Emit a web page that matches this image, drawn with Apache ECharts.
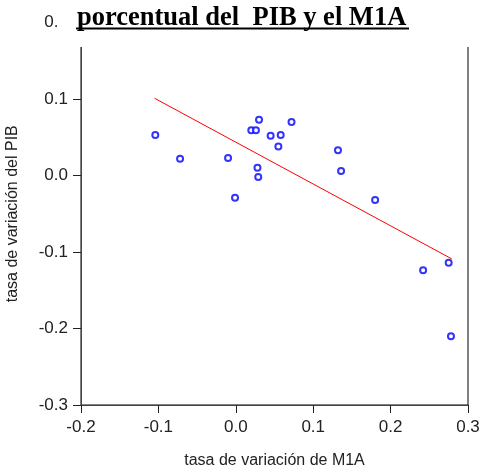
<!DOCTYPE html>
<html>
<head>
<meta charset="utf-8">
<script src="https://cdn.jsdelivr.net/npm/echarts@6/dist/echarts.min.js"></script>
<style>
  html, body { margin: 0; padding: 0; background: #fff; }
  #chart { width: 483px; height: 468px; }
</style>
</head>
<body>
<div id="chart"></div>
<script>
// tasa de variación de M1A (x) y del PIB (y)
const m1aRate = [-0.104, -0.072, -0.010, -0.001, 0.020, 0.026, 0.030, 0.072, 0.045, 0.058,
                 0.055, 0.028, 0.029, 0.132, 0.136, 0.180, 0.275, 0.242, 0.278];
const pibRate = [0.053, 0.022, 0.023, -0.029, 0.059, 0.059, 0.073, 0.070, 0.052, 0.053,
                 0.038, 0.010, -0.002, 0.033, 0.006, -0.032, -0.114, -0.124, -0.210];
// extremos de la recta de ajuste
const fitX = [-0.105, 0.279];
const fitY = [0.101, -0.109];

const xTicks = [-0.2, 0.3];
const yTicks = [-0.3, 0.2];

const points = m1aRate.map((x, i) => [x, pibRate[i]]);
const fitLine = fitX.map((x, i) => [x, fitY[i]]);

const myChart = echarts.init(document.getElementById('chart'));
const option = {
  backgroundColor: '#fff',
  animation: false,
  title: {
    text: 'porcentual del  PIB y el M1A',
    left: 72,
    top: 0,
    z: 60,
    textStyle: {
      fontFamily: 'Liberation Serif',
      fontWeight: 'bold',
      fontSize: 26.5,
      color: '#000'
    }
  },
  graphic: [
    { type: 'rect', z: 50, shape: { x: 59, y: 0, width: 424, height: 47 }, style: { fill: '#fff' } },
    { type: 'line', z: 61, shape: { x1: 76, y1: 28.5, x2: 409, y2: 28.5 }, style: { stroke: '#000', lineWidth: 2 } }
  ],
  grid: {
    left: 81, right: 15, top: 22.5, bottom: 63,
    outerBoundsMode: 'none',
    containLabel: false,
    show: true, borderColor: '#000', borderWidth: 1
  },
  xAxis: {
    type: 'value',
    min: xTicks[0], max: xTicks[1], interval: 0.1,
    name: 'tasa de variación de M1A',
    nameLocation: 'middle',
    nameGap: 48,
    nameTextStyle: { fontFamily: 'Liberation Sans', fontSize: 16, color: '#222' },
    axisLine: { show: true, onZero: false, lineStyle: { color: '#444' } },
    axisTick: { show: true, length: 8, lineStyle: { color: '#222' } },
    axisLabel: {
      margin: 14, fontFamily: 'Liberation Sans', fontSize: 17, color: '#222',
      formatter: v => v.toFixed(1)
    },
    splitLine: { show: false }
  },
  yAxis: {
    type: 'value',
    min: yTicks[0], max: yTicks[1], interval: 0.1,
    name: 'tasa de variación del PIB',
    nameLocation: 'middle',
    nameGap: 60,
    nameTextStyle: { fontFamily: 'Liberation Sans', fontSize: 16, color: '#222' },
    axisLine: { show: true, onZero: false, lineStyle: { color: '#444' } },
    axisTick: { show: true, length: 8, lineStyle: { color: '#222' } },
    axisLabel: {
      margin: 13, fontFamily: 'Liberation Sans', fontSize: 17, color: '#222',
      formatter: v => v.toFixed(1)
    },
    splitLine: { show: false }
  },
  series: [
    {
      type: 'line',
      data: fitLine,
      symbol: 'none',
      lineStyle: { color: '#ff0000', width: 1 },
      z: 2
    },
    {
      type: 'scatter',
      data: points,
      symbol: 'emptyCircle',
      symbolSize: 6,
      itemStyle: { color: '#0000ff', borderColor: '#0000ff', borderWidth: 1 },
      z: 3
    }
  ]
};
myChart.setOption(option);
</script>
</body>
</html>
